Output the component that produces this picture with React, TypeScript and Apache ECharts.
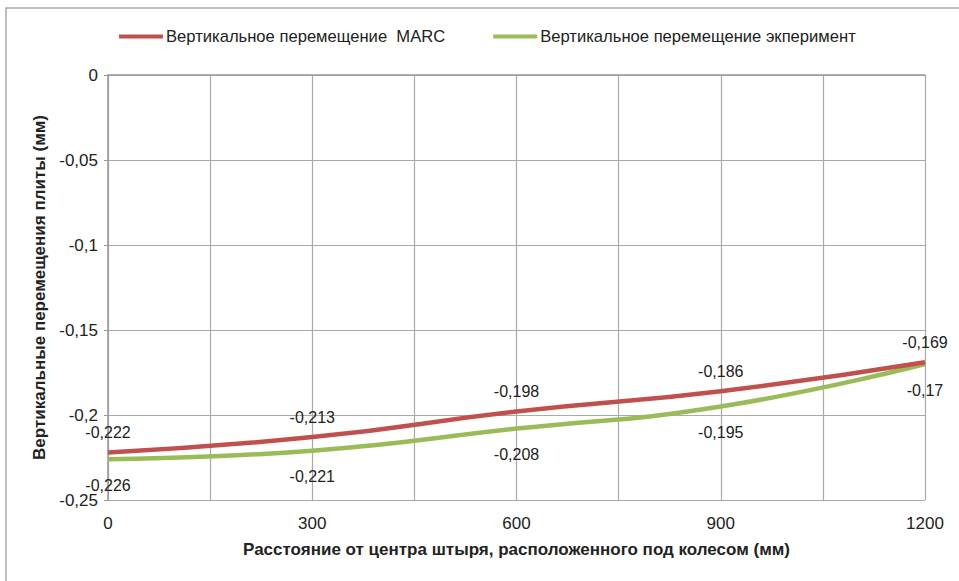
import React, { useEffect, useRef } from "react";
import * as echarts from "echarts";

const xValues = [0, 300, 600, 900, 1200];
const marcValues = [-0.222, -0.213, -0.198, -0.186, -0.169];
const expValues = [-0.226, -0.221, -0.208, -0.195, -0.17];
const seriesNames = ["Вертикальное перемещение  MARC", "Вертикальное перемещение экперимент"];
const xTitle = "Расстояние от центра штыря, расположенного под колесом (мм)";
const yTitle = "Вертикальные перемещения плиты (мм)";

const FONT = "'Liberation Sans', Arial, sans-serif";
const fmt = (v: number) => String(+v.toFixed(3)).replace(".", ",");

export default function App() {
  const ref = useRef<HTMLDivElement>(null);
  useEffect(() => {
    if (!ref.current) return;
    const chart = echarts.init(ref.current, undefined, { renderer: "svg" });
    const pairs = (vals: number[]) => xValues.map((x, i) => [x, vals[i]]);
    chart.setOption({
      animation: false,
      backgroundColor: "#fff",
      textStyle: { fontFamily: FONT },
      graphic: [
        {
          type: "polyline",
          shape: { points: [[6, 581], [6, 8], [959, 8]] },
          style: { stroke: "#aaa", lineWidth: 1.5, fill: "none" },
        },
      ],
      legend: {
        left: 114,
        top: 23,
        itemWidth: 44,
        itemHeight: 4,
        itemGap: 48,
        textStyle: { fontFamily: FONT, fontSize: 16.6, color: "#222", padding: [0, 0, 0, -2] },
        data: seriesNames.map((n) => ({ name: n, icon: "rect" })),
      },
      grid: { left: 108, right: 34, top: 75, bottom: 81 },
      xAxis: {
        type: "value",
        min: 0,
        max: 1200,
        interval: 150,
        name: xTitle,
        nameLocation: "middle",
        nameGap: 41,
        nameTextStyle: { fontFamily: FONT, fontSize: 17, fontWeight: "bold", color: "#222" },
        axisLine: { show: true, lineStyle: { color: "#999", width: 1.5 } },
        axisTick: { show: false },
        axisLabel: {
          margin: 15,
          fontSize: 17,
          color: "#222",
          fontFamily: FONT,
          formatter: (v: number) => (v % 300 === 0 ? String(v) : ""),
        },
        splitLine: { show: true, lineStyle: { color: "#aaa", width: 1.2 } },
      },
      yAxis: {
        type: "value",
        min: -0.25,
        max: 0,
        interval: 0.05,
        name: yTitle,
        nameLocation: "middle",
        nameGap: 55,
        nameTextStyle: { fontFamily: FONT, fontSize: 17, fontWeight: "bold", color: "#222" },
        axisLine: { show: true, lineStyle: { color: "#999", width: 1.5 } },
        axisTick: { show: true, inside: false, length: 4, lineStyle: { color: "#999" } },
        axisLabel: { margin: 10, fontSize: 17, color: "#222", fontFamily: FONT, formatter: fmt },
        splitLine: { show: true, lineStyle: { color: "#aaa", width: 1.2 } },
      },
      series: [
        {
          name: seriesNames[0],
          type: "line",
          smooth: true,
          symbol: "circle",
          symbolSize: 0,
          showSymbol: true,
          data: pairs(marcValues),
          lineStyle: { color: "#c0504d", width: 4.5 },
          itemStyle: { color: "#c0504d" },
          label: {
            show: true,
            position: "top",
            distance: 12,
            fontSize: 16,
            color: "#222",
            fontFamily: FONT,
            formatter: (p: any) => fmt(p.value[1]),
          },
          z: 3,
        },
        {
          name: seriesNames[1],
          type: "line",
          smooth: true,
          symbol: "circle",
          symbolSize: 0,
          showSymbol: true,
          data: pairs(expValues),
          lineStyle: { color: "#9bbb59", width: 4.5 },
          itemStyle: { color: "#9bbb59" },
          label: {
            show: true,
            position: "bottom",
            distance: 18,
            fontSize: 16,
            color: "#222",
            fontFamily: FONT,
            formatter: (p: any) => fmt(p.value[1]),
          },
          z: 2,
        },
      ],
    });
    return () => chart.dispose();
  }, []);
  return (
    <div
      ref={ref}
      style={{ position: "fixed", left: 0, top: 0, width: 959, height: 581 }}
    />
  );
}
